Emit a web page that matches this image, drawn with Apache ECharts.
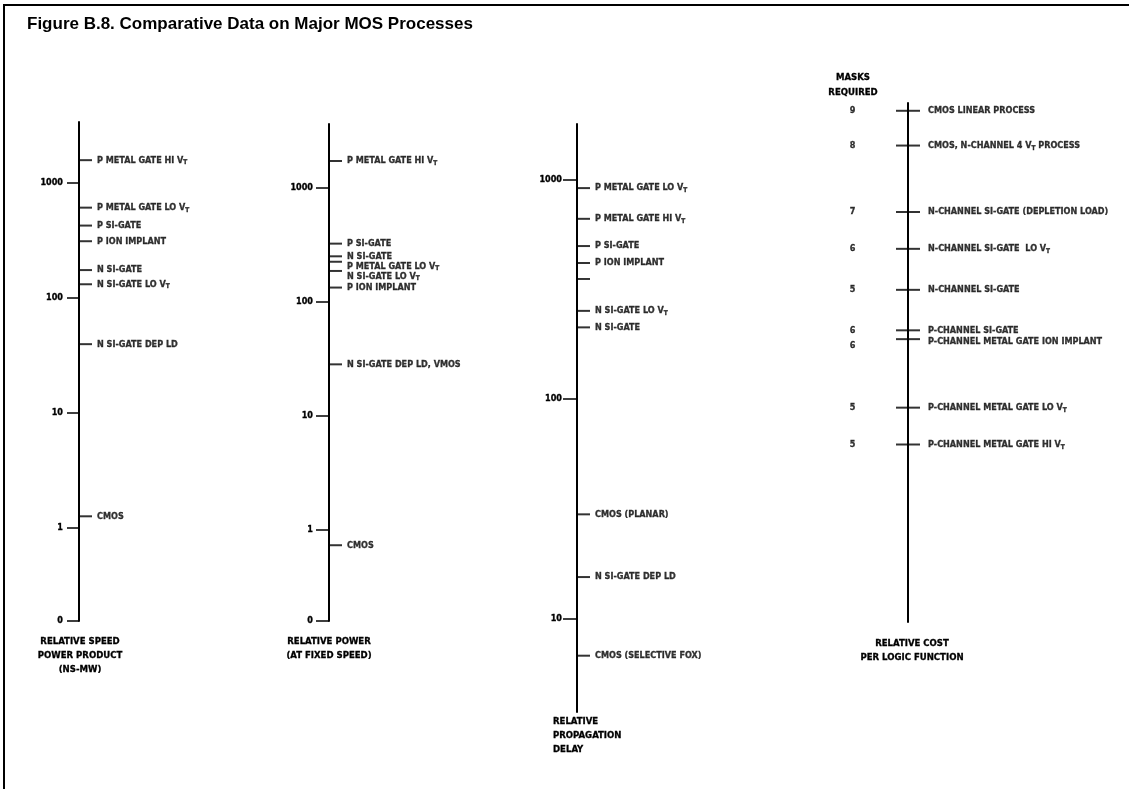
<!DOCTYPE html>
<html>
<head>
<meta charset="utf-8">
<title>Comparative Data on Major MOS Processes</title>
<script src="https://cdn.jsdelivr.net/npm/echarts@6/dist/echarts.min.js"></script>
<style>
  html, body { margin: 0; padding: 0; background: #fff; }
  #chart { width: 1129px; height: 789px; }
</style>
</head>
<body>
<div id="chart"></div>
<script>
// 各轴数据
const speedNames = ['P METAL GATE HI VT', 'P METAL GATE LO VT', 'P SI-GATE', 'P ION IMPLANT', 'N SI-GATE', 'N SI-GATE LO VT', 'N SI-GATE DEP LD', 'CMOS']
const speedValues = [1570, 607, 424, 310, 174, 131, 39.5, 1.26]
const speedTicks = [0.155, 1, 10, 100, 1000]

const powerNames = ['P METAL GATE HI VT', 'P SI-GATE', 'N SI-GATE', 'P METAL GATE LO VT', 'N SI-GATE LO VT', 'P ION IMPLANT', 'N SI-GATE DEP LD, VMOS', 'CMOS']
const powerValues = [1714, 323, 250, 224, 186, 133, 28.2, 0.73]
const powerTicks = [0.158, 1, 10, 100, 1000]

const delayNames = ['P METAL GATE LO VT', 'P METAL GATE HI VT', 'P SI-GATE', 'P ION IMPLANT', '', 'N SI-GATE LO VT', 'N SI-GATE', 'CMOS (PLANAR)', 'N SI-GATE DEP LD', 'CMOS (SELECTIVE FOX)']
const delayValues = [912, 661, 497, 416, 352, 252, 212, 29.9, 15.5, 6.8]
const delayTicks = [10, 100, 1000]

const costNames = ['CMOS LINEAR PROCESS', 'CMOS, N-CHANNEL 4 VT PROCESS', 'N-CHANNEL SI-GATE (DEPLETION LOAD)', 'N-CHANNEL SI-GATE  LO VT', 'N-CHANNEL SI-GATE', 'P-CHANNEL SI-GATE', 'P-CHANNEL METAL GATE ION IMPLANT', 'P-CHANNEL METAL GATE LO VT', 'P-CHANNEL METAL GATE HI VT']
const costValues = [98.5, 91.8, 79.0, 71.9, 64.0, 56.2, 54.5, 41.3, 34.2]
const masksRequired = [9, 8, 7, 6, 5, 6, 6, 5, 5]

const FONT = '"Liberation Sans Narrow", "DejaVu Sans Condensed", "Arial Narrow", sans-serif'
const TITLE_FONT = '"Liberation Sans", Arial, Helvetica, sans-serif'
const INK = '#000'

const chart = echarts.init(document.getElementById('chart'))

// 0 号刻度画在对数轴底端
const tickFormatter = (value) => (value < 1 ? '0' : String(value))

// V_T 下标
const labelFormatter = (p) => p.name.replace(/\bVT\b/g, 'V{t|T}')

// 挤在一起的标签依次往下推
const pushDown = (minGap) => {
  let lastCenter = -Infinity
  return (params) => {
    if (params.dataIndex === 0) lastCenter = -Infinity
    const center = params.labelRect.y + params.labelRect.height / 2
    const target = Math.max(center, lastCenter + minGap)
    lastCenter = target
    return { dy: target - center }
  }
}

const textStyle = {
  color: INK,
  fontFamily: FONT,
  fontWeight: 'bold',
  fontSize: 9,
  textBorderColor: INK,
  textBorderWidth: 0.3
}

const richSub = {
  t: { fontFamily: FONT, fontWeight: 'bold', fontSize: 6.5, color: INK, verticalAlign: 'bottom', lineHeight: 12 }
}

const makeGrid = (left, top, height) => ({
  left: left,
  top: top,
  width: 10,
  height: height,
  outerBoundsMode: 'none'
})

const makeXAxis = (gridIndex) => ({
  type: 'value',
  gridIndex: gridIndex,
  min: 0,
  max: 1,
  show: false
})

const makeLogAxis = (gridIndex, min, max, ticks, tickLen, margin) => ({
  type: 'log',
  logBase: 10,
  gridIndex: gridIndex,
  min: min,
  max: max,
  axisLine: { show: true, lineStyle: { color: INK, width: 2 } },
  axisTick: { show: true, inside: false, length: tickLen, customValues: ticks, lineStyle: { color: INK, width: 1.5 } },
  axisLabel: { show: true, margin: margin, customValues: ticks, formatter: tickFormatter, ...textStyle },
  splitLine: { show: false },
  minorTick: { show: false }
})

const makePoints = (names, values) => names.map((name, i) => ({ name: name, value: [0, values[i]] }))

const makeSeries = (idx, names, values, size, offset, gap, minGap) => ({
  type: 'scatter',
  xAxisIndex: idx,
  yAxisIndex: idx,
  symbol: 'rect',
  symbolSize: size,
  symbolOffset: offset,
  itemStyle: { color: INK },
  label: {
    show: true,
    position: 'right',
    distance: gap,
    formatter: labelFormatter,
    lineHeight: 12,
    ...textStyle,
    rich: richSub
  },
  labelLayout: minGap ? pushDown(minGap) : null,
  emphasis: { disabled: true },
  silent: true,
  data: makePoints(names, values)
})

const captionStyle = {
  color: INK,
  fontFamily: FONT,
  fontWeight: 'bold',
  fontSize: 9.5,
  lineHeight: 14,
  textBorderColor: INK,
  textBorderWidth: 0.3
}

const option = {
  animation: false,
  backgroundColor: '#fff',
  title: [
    {
      text: 'Figure B.8. Comparative Data on Major MOS Processes',
      left: 27,
      top: 16,
      padding: 0,
      textStyle: { color: INK, fontFamily: TITLE_FONT, fontWeight: 'bold', fontSize: 17 }
    },
    { text: 'RELATIVE SPEED\nPOWER PRODUCT\n(NS-MW)', left: 80, top: 635, padding: 0, textAlign: 'center', textStyle: captionStyle },
    { text: 'RELATIVE POWER\n(AT FIXED SPEED)', left: 329, top: 635, padding: 0, textAlign: 'center', textStyle: captionStyle },
    { text: 'RELATIVE\nPROPAGATION\nDELAY', left: 553, top: 715, padding: 0, textAlign: 'left', textStyle: captionStyle },
    { text: 'RELATIVE COST\nPER LOGIC FUNCTION', left: 912, top: 637, padding: 0, textAlign: 'center', textStyle: captionStyle },
    { text: 'MASKS\nREQUIRED', left: 853, top: 70, padding: 0, textAlign: 'center', textStyle: { ...captionStyle, lineHeight: 15 } }
  ],
  graphic: [
    {
      type: 'polyline',
      silent: true,
      shape: { points: [[4, 789], [4, 5], [1129, 5]] },
      style: { stroke: '#000', lineWidth: 2, fill: null }
    }
  ],
  grid: [
    makeGrid(79, 122, 499),
    makeGrid(329, 124, 497),
    makeGrid(577, 124, 588),
    makeGrid(908, 103, 519)
  ],
  xAxis: [makeXAxis(0), makeXAxis(1), makeXAxis(2), makeXAxis(3)],
  yAxis: [
    makeLogAxis(0, 0.155, 3370, speedTicks, 12, 16),
    makeLogAxis(1, 0.158, 3620, powerTicks, 13, 16),
    makeLogAxis(2, 3.77, 1785, delayTicks, 14, 15),
    {
      type: 'value',
      gridIndex: 3,
      min: 0,
      max: 100,
      axisLine: { show: true, lineStyle: { color: INK, width: 2 } },
      axisTick: { show: false },
      axisLabel: { show: false },
      splitLine: { show: false }
    }
  ],
  series: [
    makeSeries(0, speedNames, speedValues, [13, 2], [6.5, 0], 5),
    makeSeries(1, powerNames, powerValues, [13, 2], [6.5, 0], 5, 10),
    makeSeries(2, delayNames, delayValues, [13, 2], [6.5, 0], 5),
    makeSeries(3, costNames, costValues, [24, 2], [0, 0], 8, 11),
    {
      // 所需掩膜数，标在轴左侧
      type: 'scatter',
      xAxisIndex: 3,
      yAxisIndex: 3,
      symbol: 'rect',
      symbolSize: [1, 1],
      itemStyle: { color: 'rgba(0,0,0,0)' },
      label: {
        show: true,
        position: 'left',
        distance: 52,
        formatter: (p) => String(masksRequired[p.dataIndex]),
        ...textStyle
      },
      labelLayout: pushDown(15),
      emphasis: { disabled: true },
      silent: true,
      data: costValues.map(v => [0, v])
    }
  ]
}

chart.setOption(option)
</script>
</body>
</html>
